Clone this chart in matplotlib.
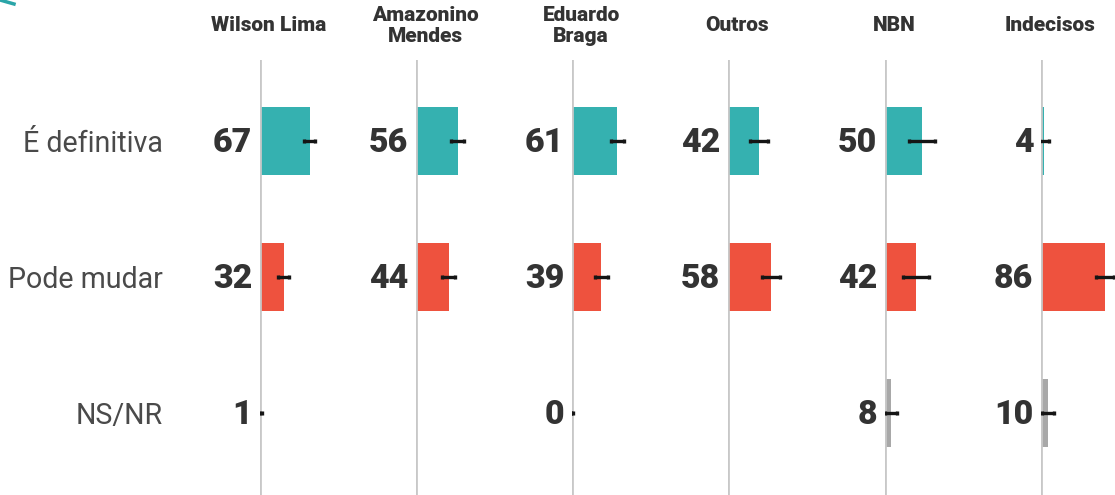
import numpy as np
import matplotlib
matplotlib.use("Agg")
import matplotlib.pyplot as plt
from matplotlib.lines import Line2D

# ---- data ----
categories = ["É definitiva", "Pode mudar", "NS/NR"]
candidates = ["Wilson Lima", "Amazonino\nMendes", "Eduardo\nBraga", "Outros", "NBN", "Indecisos"]
definitiva = [67, 56, 61, 42, 50, 4]
pode_mudar = [32, 44, 39, 58, 42, 86]
ns_nr = [1, np.nan, 0, np.nan, 8, 10]
err_definitiva = [7.4, 8.5, 8.7, 12, 17.5, 6.7]
err_pode_mudar = [7.4, 8.5, 8.7, 12, 17.5, 12]
err_ns_nr = [2, np.nan, 1.5, np.nan, 8, 8]

colors = ["#35B1B0", "#EE523E", "#A8A8A8"]
text_col = "#333333"

W, H = 1115, 495
fig = plt.figure(figsize=(W / 100, H / 100), dpi=100)

baselines = [260, 416, 572, 728, 885, 1041]
px_per_unit = 0.745
ax_w_px = 150
top_px = 60

series = [definitiva, pode_mudar, ns_nr]
errs = [err_definitiva, err_pode_mudar, err_ns_nr]
row_pos = np.arange(len(categories))
row_h_px = 136
ylim_top = -(141 - top_px) / row_h_px
ylim_bot = ylim_top + (H - top_px) / row_h_px

for i, (b, name) in enumerate(zip(baselines, candidates)):
    ax = fig.add_axes([b / W, 0, ax_w_px / W, (H - top_px) / H])
    ax.set_xlim(0, ax_w_px / px_per_unit)
    ax.set_ylim(ylim_bot, ylim_top)
    for s in ax.spines.values():
        s.set_visible(False)
    ax.set_xticks([])
    vals = [series[r][i] for r in range(3)]
    ers = [errs[r][i] for r in range(3)]
    for r in range(3):
        v = vals[r]
        if np.isnan(v):
            continue
        ax.barh(row_pos[r], v, height=0.5, color=colors[r], zorder=2)
        ax.errorbar(v, row_pos[r], xerr=ers[r], fmt="none", ecolor="#151515",
                    elinewidth=2.4, capsize=1.2, capthick=2.4, zorder=4)
        ax.annotate(f"{v:.0f}", xy=(0, row_pos[r]), xytext=(-5.5, -1.2),
                    textcoords="offset points", ha="right", va="center",
                    fontsize=24.5, fontweight="black", family="Roboto",
                    color=text_col, annotation_clip=False)
    ax.axvline(0, color="#C8C8C8", lw=2.7, zorder=3)
    ax.text(9 / px_per_unit, 1 + (top_px - 26) / (H - top_px), name,
            transform=ax.get_xaxis_transform(), ha="center", va="center",
            fontsize=15, fontweight="black", family="Roboto", color=text_col,
            linespacing=1.12)
    if i == 0:
        ax.set_yticks(row_pos)
        ax.set_yticklabels(categories, fontsize=20.6, family="Roboto",
                           fontweight="normal", color="#4A4A4A")
        ax.tick_params(axis="y", length=0, pad=(b - 163) * 0.72)
    else:
        ax.set_yticks([])

# small decorative fragment at top-left corner
fig.add_artist(Line2D([0 / W, 14 / W], [1.0, 1 - 4 / H], color="#2AA5A8",
                      lw=2.5, transform=fig.transFigure))

fig.savefig("out.png", dpi=100)
